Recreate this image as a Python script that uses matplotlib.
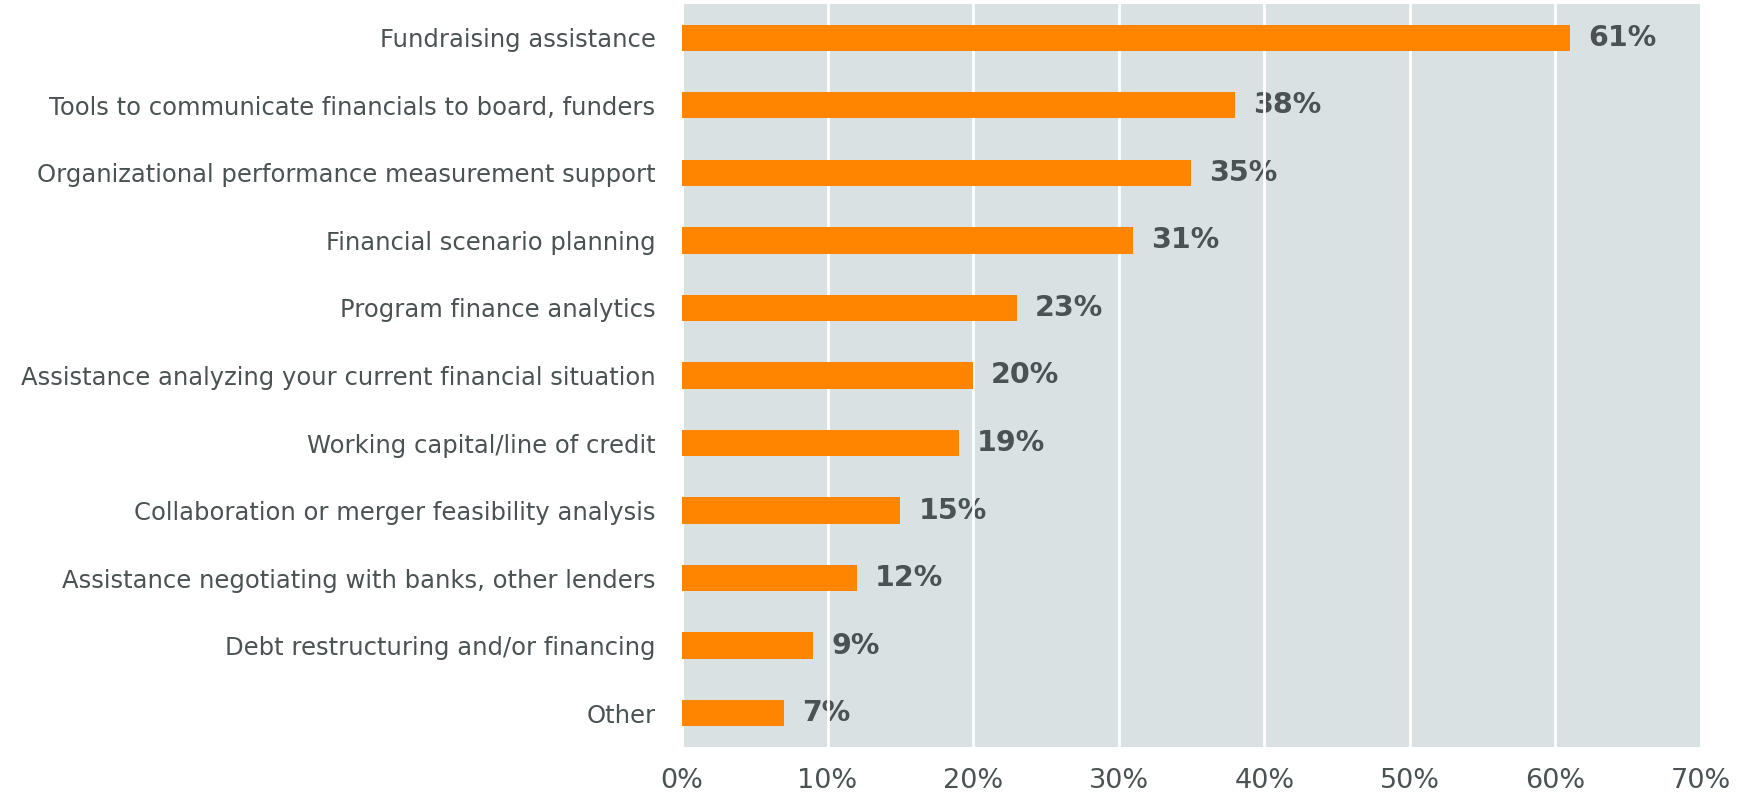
import matplotlib.pyplot as plt
from matplotlib.ticker import FuncFormatter

# survey responses, top to bottom
categories = [
    "Fundraising assistance",
    "Tools to communicate financials to board, funders",
    "Organizational performance measurement support",
    "Financial scenario planning",
    "Program finance analytics",
    "Assistance analyzing your current financial situation",
    "Working capital/line of credit",
    "Collaboration or merger feasibility analysis",
    "Assistance negotiating with banks, other lenders",
    "Debt restructuring and/or financing",
    "Other",
]
percents = [61, 38, 35, 31, 23, 20, 19, 15, 12, 9, 7]
x_ticks = [0, 10, 20, 30, 40, 50, 60, 70]

orange = "#ff8400"
panel = "#dae1e3"
text_col = "#4b5254"

fig = plt.figure(figsize=(17.5, 7.96), dpi=100)
ax = fig.add_axes([0.3897, 0.0616, 0.5823, 0.9334])
ax.set_facecolor(panel)

ypos = list(range(len(categories)))
ax.barh(ypos, percents, height=0.39, color=orange, zorder=2)

# value labels sit just past the bar ends, under the white gridlines
for y, v in zip(ypos, percents):
    ax.annotate(f"{v}%", (v, y), xytext=(13, 0), textcoords="offset points",
                va="center", ha="left", fontsize=20.5, fontweight="bold",
                color=text_col, zorder=0.3)

ax.set_xlim(0, 70)
ax.set_ylim(len(categories) - 0.5, -0.5)
ax.set_xticks(x_ticks)
ax.xaxis.set_major_formatter(FuncFormatter(lambda v, p: f"{v:.0f}%"))
ax.set_yticks(ypos)
ax.set_yticklabels(categories)

ax.tick_params(axis="x", length=0, pad=15, labelsize=19.5, labelcolor=text_col)
ax.tick_params(axis="y", length=0, pad=19, labelsize=17.5, labelcolor=text_col)

ax.set_axisbelow(True)
ax.grid(axis="x", color="white", linewidth=2)
for s in ax.spines.values():
    s.set_visible(False)

fig.savefig("out.png", dpi=100)
